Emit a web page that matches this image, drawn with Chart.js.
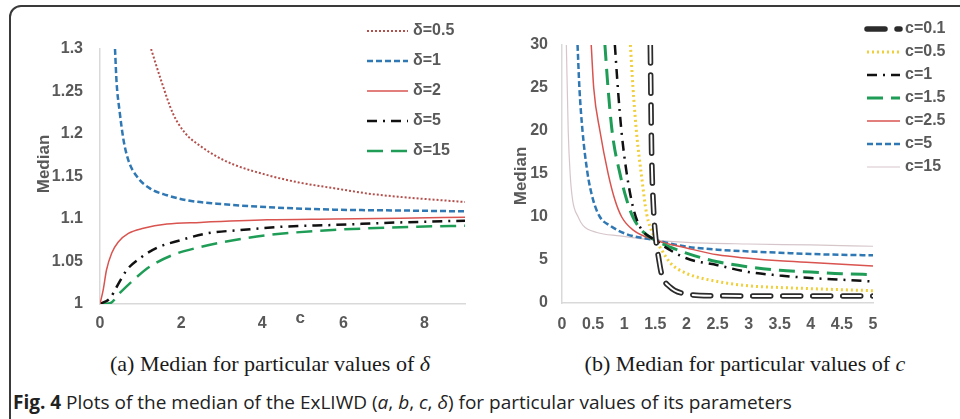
<!DOCTYPE html>
<html>
<head>
<meta charset="utf-8">
<script src="https://cdn.jsdelivr.net/npm/chart.js@4.4.1/dist/chart.umd.min.js"></script>
<style>
body { margin: 0; width: 960px; height: 419px; overflow: hidden; background: #fff; position: relative; }
.frame { position: absolute; left: 9px; top: 5px; width: 1100px; height: 1000px; border: 2px solid #3a3a3a; border-radius: 12px; box-sizing: border-box; }
#boxA { position: absolute; left: 10px; top: 0; width: 470px; height: 345px; }
#boxB { position: absolute; left: 480px; top: 0; width: 480px; height: 345px; }
.sub { position: absolute; top: 352px; font-family: "Liberation Serif", serif; font-size: 21px; color: #1a1a1a; white-space: nowrap; transform: translateX(-50%) scaleX(1.05); }
.cap { position: absolute; left: 13px; top: 389px; font-family: "Open Sans", sans-serif; font-size: 19px; color: #222; white-space: nowrap; }
</style>
</head>
<body>
<div class="frame"></div>
<div id="boxA"><canvas id="chartA"></canvas></div>
<div id="boxB"><canvas id="chartB"></canvas></div>
<div class="sub" style="left:270px">(a) Median for particular values of <i>δ</i></div>
<div class="sub" style="left:745px">(b) Median for particular values of <i>c</i></div>
<div class="cap"><b>Fig. 4</b> Plots of the median of the ExLIWD (<i>a</i>, <i>b</i>, <i>c</i>, <i>δ</i>) for particular values of its parameters</div>
<script>
// (a) median against c, one curve per delta
const d05x = [1.26, 1.5, 1.8, 2.1, 2.5, 2.9, 3.3, 4.1, 4.9, 5.8, 6.6, 7.4, 9]
const d05y = [1.3, 1.264, 1.224, 1.201, 1.185, 1.173, 1.164, 1.152, 1.143, 1.136, 1.130, 1.126, 1.120]
const d1x = [0.37, 0.41, 0.48, 0.58, 0.7, 0.91, 1.23, 1.65, 2.14, 2.88, 4.12, 5.76, 7.41, 9]
const d1y = [1.3, 1.26, 1.228, 1.193, 1.169, 1.15, 1.136, 1.128, 1.122, 1.118, 1.114, 1.111, 1.11, 1.109]
const d2x = [0, 0.08, 0.16, 0.29, 0.45, 0.7, 1.07, 1.65, 2.47, 4.12, 5.76, 7.41, 9]
const d2y = [1, 1.017, 1.04, 1.06, 1.073, 1.083, 1.089, 1.094, 1.096, 1.099, 1.1, 1.101, 1.102]
const d5x = [0, 0.25, 0.41, 0.66, 0.99, 1.4, 1.98, 2.63, 3.46, 4.53, 5.76, 7.41, 9]
const d5y = [1, 1.007, 1.02, 1.04, 1.054, 1.066, 1.075, 1.083, 1.087, 1.091, 1.093, 1.096, 1.098]
const d15x = [0, 0.25, 0.49, 0.82, 1.23, 1.81, 2.47, 3.29, 4.12, 5.35, 6.58, 7.82, 9]
const d15y = [1, 1.001, 1.013, 1.028, 1.044, 1.058, 1.067, 1.075, 1.081, 1.086, 1.089, 1.091, 1.092]

// (b) median against delta, one curve per c
const c01x = [1.42, 1.43, 1.44, 1.47, 1.51, 1.55, 1.6, 1.73, 2, 2.43, 3.5, 5]
const c01y = [30, 23.6, 17.8, 11.2, 7.3, 5.4, 3.4, 1.9, 1.05, 0.85, 0.8, 0.8]
const c05x = [1.1, 1.14, 1.2, 1.28, 1.36, 1.47, 1.57, 1.75, 2, 2.5, 3, 3.5, 4, 5]
const c05y = [30, 25.2, 19.7, 14.7, 10.4, 7.9, 6.55, 4.6, 3.45, 2.5, 2, 1.8, 1.67, 1.43]
const c1x = [0.85, 0.9, 0.96, 1.04, 1.14, 1.25, 1.5, 2, 2.5, 3, 3.5, 4, 4.5, 5]
const c1y = [30, 24.8, 19.7, 15.1, 11.2, 8.9, 7.3, 5.2, 4.4, 3.6, 3.2, 2.9, 2.7, 2.5]
const c15x = [0.69, 0.74, 0.81, 0.93, 1.04, 1.14, 1.3, 1.5, 2, 2.5, 3, 3.5, 4, 4.5, 5]
const c15y = [30, 25, 19.7, 15.1, 12, 10, 8.3, 7.3, 5.8, 4.8, 4.2, 3.8, 3.6, 3.4, 3.3]
const c25x = [0.47, 0.51, 0.61, 0.74, 0.85, 0.96, 1.14, 1.5, 2, 2.5, 3, 3.5, 4, 4.5, 5]
const c25y = [30, 25, 20, 15.1, 12, 10, 8.5, 7.3, 6.4, 5.6, 5.2, 4.9, 4.7, 4.5, 4.3]
const c5x = [0.25, 0.28, 0.33, 0.41, 0.5, 0.61, 0.77, 1.04, 1.5, 2, 2.5, 3, 3.5, 4, 4.5, 5]
const c5y = [30, 25, 20, 15.1, 12, 10, 9, 8, 7.3, 6.55, 6.2, 6, 5.85, 5.7, 5.6, 5.55]
const c15bx = [0.07, 0.1, 0.13, 0.17, 0.26, 0.34, 0.56, 0.93, 1.5, 2, 3, 4, 5]
const c15by = [30, 20, 15.1, 12, 10, 9, 8.2, 7.8, 7.3, 7.05, 6.86, 6.75, 6.6]

const yTicksA = [1, 1.05, 1.1, 1.15, 1.2, 1.25, 1.3]
const yTicksB = [0, 5, 10, 15, 20, 25, 30]

const pts = (xs, ys) => xs.map((x, i) => ({ x: x, y: ys[i] }))
const tickColor = '#595959'
const boldFont = (size) => ({ family: 'Liberation Sans', size: size, weight: 'bold' })
const plain = (v) => String(Number(v.toFixed(2)))

function line(label, xs, ys, color, width, dash, extra) {
    return Object.assign({
        label: label,
        data: pts(xs, ys),
        borderColor: color,
        borderWidth: width,
        borderDash: dash,
        pointRadius: 0,
        fill: false,
        cubicInterpolationMode: 'monotone'
    }, extra || {})
}

// draws the legend rows and the free-floating axis labels
const sideLegend = {
    id: 'sideLegend',
    afterDraw(chart, args, opts) {
        const ctx = chart.ctx
        ctx.save()
        chart.data.datasets.forEach((ds) => {
            const y = opts.top + ds.row * opts.step
            ctx.beginPath()
            ctx.setLineDash(ds.borderDash || [])
            ctx.strokeStyle = ds.borderColor
            ctx.lineWidth = ds.borderWidth
            ctx.lineCap = ds.borderCapStyle || 'butt'
            ctx.moveTo(opts.x, y)
            ctx.lineTo(opts.x + opts.len, y)
            ctx.stroke()
            if (ds.label) {
                ctx.setLineDash([])
                ctx.fillStyle = tickColor
                ctx.font = 'bold 16px "Liberation Sans"'
                ctx.textBaseline = 'middle'
                ctx.textAlign = 'left'
                ctx.fillText(ds.label, opts.x + opts.len + opts.gap, y)
            }
        })
        ctx.fillStyle = tickColor
        ctx.font = 'bold 17px "Liberation Sans"'
        ctx.textAlign = 'center'
        ctx.textBaseline = 'middle'
        if (opts.xTitle) {
            ctx.fillText(opts.xTitle.text, chart.scales.x.getPixelForValue(opts.xTitle.at), opts.xTitle.y)
        }
        ctx.translate(opts.yTitle.x, opts.yTitle.y)
        ctx.rotate(-Math.PI / 2)
        ctx.fillText(opts.yTitle.text, 0, 0)
        ctx.restore()
    }
}

function axes(xMin, xMax, xStep, yMin, yMax, yStep, yWidth, xHeight, yPad, xPad) {
    const common = {
        type: 'linear',
        grid: { color: 'rgba(0,0,0,0)', drawTicks: false },
        border: { color: '#d9d9d9', width: 1.5 }
    }
    return {
        x: Object.assign({}, common, {
            min: xMin, max: xMax,
            ticks: { stepSize: xStep, includeBounds: false, padding: xPad, color: tickColor, font: boldFont(16), callback: plain },
            afterFit: (s) => { s.height = xHeight }
        }),
        y: Object.assign({}, common, {
            min: yMin, max: yMax,
            ticks: { stepSize: yStep, padding: yPad, color: tickColor, font: boldFont(16), callback: plain },
            afterFit: (s) => { s.width = yWidth }
        })
    }
}

new Chart(document.getElementById('chartA'), {
    type: 'line',
    data: {
        datasets: [
            line('δ=0.5', d05x, d05y, '#b4504c', 2, [2, 2], { row: 0 }),
            line('δ=1', d1x, d1y, '#2f78b4', 2.5, [6, 3], { row: 1 }),
            line('δ=2', d2x, d2y, '#d9534f', 1.5, [], { row: 2 }),
            line('δ=5', d5x, d5y, '#111111', 2.5, [10, 6, 2, 6], { row: 3 }),
            line('δ=15', d15x, d15y, '#1f9d57', 2.5, [16, 8], { row: 4 })
        ]
    },
    options: {
        responsive: true,
        maintainAspectRatio: false,
        animation: false,
        layout: { padding: { left: 0, right: 15, top: 49, bottom: 0 } },
        scales: axes(0, 9, 2, yTicksA[0], yTicksA[yTicksA.length - 1], 0.05, 90, 41, 17, 10),
        plugins: {
            legend: { display: false },
            tooltip: { enabled: false },
            sideLegend: {
                x: 357, len: 41, gap: 5, top: 31, step: 30,
                xTitle: { text: 'c', at: 4.94, y: 318 },
                yTitle: { text: 'Median', x: 34, y: 164 }
            }
        }
    },
    plugins: [sideLegend]
})

new Chart(document.getElementById('chartB'), {
    type: 'line',
    data: {
        datasets: [
            line('', c01x, c01y, '#ffffff', 2, [18, 12], { row: 0, order: -1, borderCapStyle: 'round' }),
            line('c=0.1', c01x, c01y, '#2b2b2b', 5.5, [18, 12], { row: 0, borderCapStyle: 'round' }),
            line('c=0.5', c05x, c05y, '#f0cf3a', 3, [2, 3], { row: 1 }),
            line('c=1', c1x, c1y, '#111111', 2.5, [10, 6, 2, 6], { row: 2 }),
            line('c=1.5', c15x, c15y, '#1f9d57', 3, [16, 8], { row: 3 }),
            line('c=2.5', c25x, c25y, '#d9534f', 1.5, [], { row: 4 }),
            line('c=5', c5x, c5y, '#2f78b4', 2.5, [6, 3], { row: 5 }),
            line('c=15', c15bx, c15by, '#d6c6ca', 1.2, [], { row: 6 })
        ]
    },
    options: {
        responsive: true,
        maintainAspectRatio: false,
        animation: false,
        layout: { padding: { left: 0, right: 87, top: 45, bottom: 0 } },
        scales: axes(0, 5, 0.5, yTicksB[0], yTicksB[yTicksB.length - 1], 5, 82, 42, 14, 12),
        plugins: {
            legend: { display: false },
            tooltip: { enabled: false },
            sideLegend: {
                x: 387, len: 33, gap: 5, top: 29, step: 23,
                yTitle: { text: 'Median', x: 41, y: 176 }
            }
        }
    },
    plugins: [sideLegend]
})
</script>
</body>
</html>
